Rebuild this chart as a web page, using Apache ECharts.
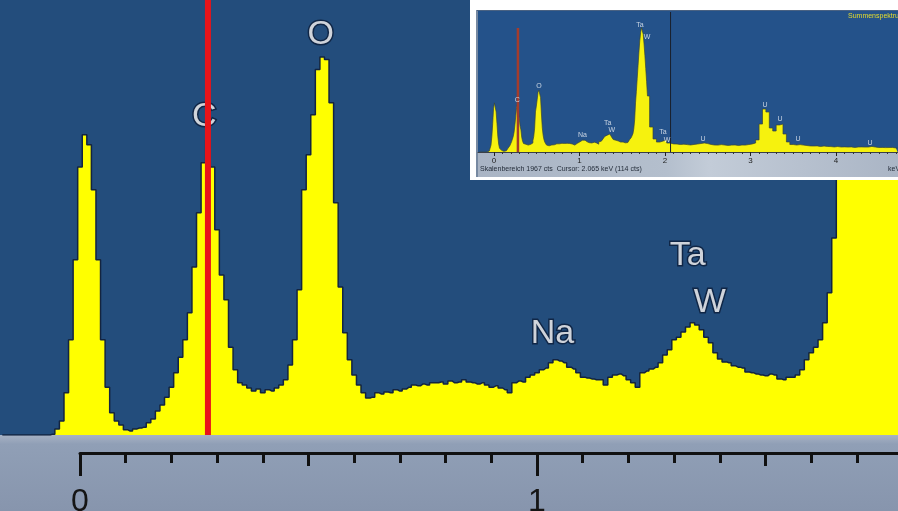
<!DOCTYPE html>
<html>
<head>
<meta charset="utf-8">
<script src="https://cdn.jsdelivr.net/npm/echarts@6/dist/echarts.min.js"></script>
<style>
  html, body { margin: 0; padding: 0; background: #ffffff; }
  #chart { width: 898px; height: 511px; }
</style>
</head>
<body>
<div id="chart"></div>
<script>
// EDS spectrum, 10 eV channels starting at -0.17 keV (counts per channel)
const channelStart = -0.17;
const channelWidth = 0.01;
const channelCounts = [
  0, 0, 0, 0, 0, 0, 0, 0, 0, 0,
  0, 2, 14, 32, 97, 219, 403, 616, 690, 667,
  564, 403, 219, 110, 51, 32, 23, 12, 9, 14,
  16, 18, 28, 37, 55, 69, 87, 110, 143, 179,
  219, 281, 386, 511, 626, 679, 616, 472, 368, 311,
  202, 150, 120, 115, 108, 101, 106, 97, 104, 101,
  108, 115, 127, 161, 219, 334, 564, 644, 736, 840,
  869, 863, 764, 534, 340, 235, 173, 138, 115, 97,
  85, 87, 97, 94, 99, 97, 104, 101, 106, 110,
  115, 113, 117, 115, 120, 120, 122, 117, 124, 120,
  122, 127, 122, 120, 117, 120, 115, 110, 113, 108,
  104, 97, 120, 124, 122, 133, 138, 143, 150, 154,
  166, 173, 170, 166, 156, 152, 143, 133, 131, 129,
  127, 127, 115, 133, 138, 140, 136, 127, 120, 110,
  143, 147, 152, 156, 166, 184, 196, 219, 225, 237,
  248, 258, 253, 242, 225, 212, 189, 175, 168, 166,
  159, 156, 154, 145, 143, 140, 138, 136, 140, 138,
  129, 127, 133, 133, 138, 150, 173, 189, 202, 219,
  258, 327, 453, 690, 851, 1035, 1219, 1403, 1564, 1679,
  1748, 1725, 1656, 1518, 1357, 1173, 989
];

// Sum spectrum continuation above 1.80 keV, 40 eV steps
const overviewStart = 1.80;
const overviewStep = 0.04;
const overviewCounts = [
  787, 351, 183, 140, 155, 169, 126, 114, 112, 105,
  110, 104, 99, 106, 112, 119, 127, 118, 106, 98,
  97, 104, 98, 92, 97, 99, 91, 98, 97, 105,
  113, 127, 170, 393, 604, 562, 337, 295, 380, 393,
  253, 141, 105, 98, 104, 97, 91, 85, 84, 86,
  77, 84, 78, 76, 71, 77, 70, 72, 69, 71,
  64, 70, 71, 69, 70, 78, 70, 63, 64, 62,
  63, 64, 57, 56
];

// Peak identifications: element, line energy (keV), label height (cts)
const peakNames    = ['C', 'O', 'Na', 'Ta', 'W', 'Ta', 'W', 'Ta', 'W', 'U', 'U', 'U', 'U', 'U'];
const peakEnergies = [0.272, 0.527, 1.034, 1.330, 1.378, 1.708, 1.789, 1.977, 2.023, 2.444, 3.170, 3.345, 3.556, 4.398];
const peakHeights  = [733, 920, 232, 412, 304, 1784, 1616, 281, 169, 183, 660, 464, 183, 126];

// Cursors
const markerEnergy = 0.28;        // red marker
const markerTop = 1742;           // marker height in the overview (cts)
const cursorEnergy = 2.065;       // overview cursor
const cursorCounts = 114;

// Axis ticks (keV)
const mainTickLabels = [0, 1];
const mainHalfTicks = [0.5, 1.5];
const mainMinorTicks = [0.1, 0.2, 0.3, 0.4, 0.6, 0.7, 0.8, 0.9, 1.1, 1.2, 1.3, 1.4, 1.6, 1.7];
const overviewTickLabels = [0, 1, 2, 3, 4];

const scaleRange = 1967;          // overview full scale (cts)
const MAIN_MIN = -0.175, MAIN_MAX = 1.79, MAIN_YMAX = 1000;
const AXIS_MAX = 1.79;
const OV_MIN = -0.187, OV_MAX = 4.725;

const spectrum = channelCounts.map((c, i) => [+(channelStart + i * channelWidth).toFixed(3), c]);
const overview = spectrum.concat(
  overviewCounts.map((c, k) => [+(overviewStart + k * overviewStep).toFixed(3), c])
);
const peaks = peakNames.map((n, i) => ({ name: n, value: [peakEnergies[i], peakHeights[i]] }));
const mainPeaks = peaks.filter(p => p.value[0] <= MAIN_MAX && p.value[1] <= MAIN_YMAX);

const overviewMinor = [];
for (let k = 1; k < 48; k++) { if (k % 10) overviewMinor.push(k / 10); }

const FONT = '"Liberation Sans", Arial, sans-serif';
const chart = echarts.init(document.getElementById('chart'), null, { renderer: 'canvas' });

const hiddenX = (grid, min, max) => ({ gridIndex: grid, type: 'value', min, max, show: false });

// main keV scale: one axis per tick length, all sharing the bottom edge of grid 1
const mainScale = (ticks, len, withLine, withLabels) => ({
  gridIndex: 1, type: 'value', min: 0, max: AXIS_MAX, z: 5, position: 'bottom', offset: 0,
  axisLine: { show: withLine, lineStyle: { color: '#111111', width: 3 } },
  axisTick: { show: true, customValues: ticks, length: len, lineStyle: { color: '#111111', width: 3 } },
  axisLabel: withLabels
    ? { show: true, customValues: ticks, margin: 33, fontSize: 32, color: '#151515', fontFamily: FONT }
    : { show: false },
  splitLine: { show: false }
});

chart.setOption({
  animation: false,
  backgroundColor: '#ffffff',
  grid: [
    { left: 0, right: 0, top: 0, height: 435, show: true, backgroundColor: '#234d7c', borderWidth: 0, outerBoundsMode: 'none' },
    { left: 80, right: 0, top: 400, height: 53, outerBoundsMode: 'none' },
    { left: 478, width: 420, top: 12, height: 140, outerBoundsMode: 'none' }
  ],
  xAxis: [
    hiddenX(0, MAIN_MIN, MAIN_MAX),
    mainScale(mainTickLabels, 23, true, true),
    mainScale(mainHalfTicks, 13, false, false),
    mainScale(mainMinorTicks, 10, false, false),
    {
      gridIndex: 2, type: 'value', min: OV_MIN, max: OV_MAX, z: 24, position: 'bottom', offset: 0,
      axisLine: { show: true, lineStyle: { color: '#3a3f48', width: 1 } },
      axisTick: { show: true, customValues: overviewTickLabels, length: 4, lineStyle: { color: '#222', width: 1 } },
      axisLabel: { show: true, customValues: overviewTickLabels, margin: 5, fontSize: 8, color: '#222', fontFamily: FONT },
      splitLine: { show: false }
    },
    {
      gridIndex: 2, type: 'value', min: OV_MIN, max: OV_MAX, z: 24, position: 'bottom', offset: 0,
      axisLine: { show: false },
      axisTick: { show: true, customValues: overviewMinor, length: 2, lineStyle: { color: '#333', width: 1 } },
      axisLabel: { show: false }, splitLine: { show: false }
    }
  ],
  yAxis: [
    { gridIndex: 0, type: 'value', min: 0, max: MAIN_YMAX, show: false },
    { gridIndex: 1, type: 'value', min: 0, max: 1, show: false },
    { gridIndex: 2, type: 'value', min: 0, max: scaleRange, show: false }
  ],
  graphic: [
    // axis strip under the main spectrum
    {
      type: 'rect', z: 1, silent: true,
      shape: { x: 0, y: 435, width: 898, height: 76 },
      style: {
        fill: new echarts.graphic.LinearGradient(0, 0, 0, 1, [
          { offset: 0, color: '#a7b2c4' },
          { offset: 0.12, color: '#909fb6' },
          { offset: 1, color: '#8795ad' }
        ])
      }
    },
    // overview panel frame
    { type: 'rect', z: 20, silent: true, shape: { x: 470, y: 0, width: 428, height: 180 }, style: { fill: '#ffffff' } },
    { type: 'rect', z: 21, silent: true, shape: { x: 478, y: 11, width: 420, height: 141 }, style: { fill: '#24528a' } },
    {
      type: 'rect', z: 21, silent: true, shape: { x: 478, y: 152, width: 420, height: 25 },
      style: {
        fill: new echarts.graphic.LinearGradient(0, 0, 1, 0, [
          { offset: 0, color: '#a9b4c4' },
          { offset: 0.45, color: '#b4bfcd' },
          { offset: 0.55, color: '#c3ccd8' },
          { offset: 1, color: '#aab5c5' }
        ])
      }
    },
    { type: 'line', z: 22, silent: true, shape: { x1: 477, y1: 10, x2: 477, y2: 177 }, style: { stroke: '#4a6282', lineWidth: 1.5 } },
    { type: 'line', z: 22, silent: true, shape: { x1: 477, y1: 10.5, x2: 898, y2: 10.5 }, style: { stroke: '#4a6282', lineWidth: 1 } },
    {
      type: 'text', z: 25, silent: true, x: 848, y: 13,
      style: { text: 'Summenspektrum', fontSize: 7, fontFamily: FONT, fill: '#e6dc2c' }
    },
    {
      type: 'text', z: 25, silent: true, x: 480, y: 166,
      style: {
        text: 'Skalenbereich ' + scaleRange + ' cts  Cursor: ' + cursorEnergy.toFixed(3) + ' keV (' + cursorCounts + ' cts)',
        fontSize: 7, fontFamily: FONT, fill: '#1f2835'
      }
    },
    {
      type: 'text', z: 25, silent: true, x: 888, y: 166,
      style: { text: 'keV', fontSize: 7, fontFamily: FONT, fill: '#1f2835' }
    }
  ],
  series: [
    {
      name: 'Spektrum', type: 'line', xAxisIndex: 0, yAxisIndex: 0, z: 2,
      data: spectrum, step: 'middle', symbol: 'none', silent: true, clip: true,
      lineStyle: { color: '#132440', width: 1.5 },
      areaStyle: { color: '#ffff00', opacity: 1 }
    },
    {
      name: 'Elemente', type: 'scatter', xAxisIndex: 0, yAxisIndex: 0, z: 3,
      data: mainPeaks, symbolSize: 1, itemStyle: { color: 'rgba(0,0,0,0)' }, silent: true,
      label: {
        show: true, position: 'inside', formatter: '{b}', fontSize: 34, fontFamily: FONT,
        color: '#ffffff', textBorderColor: '#0b1d38', textBorderWidth: 3
      }
    },
    {
      name: 'Marker', type: 'line', xAxisIndex: 0, yAxisIndex: 0, z: 4,
      data: [[markerEnergy, 0], [markerEnergy, MAIN_YMAX]], symbol: 'none', silent: true,
      lineStyle: { color: '#e8141a', width: 6 }
    },
    {
      name: 'Summenspektrum', type: 'line', xAxisIndex: 4, yAxisIndex: 2, z: 22,
      data: overview, step: 'middle', symbol: 'none', silent: true, clip: true,
      lineStyle: { color: '#3a4636', width: 0.7 },
      areaStyle: { color: '#f6f20e', opacity: 1 }
    },
    {
      name: 'Marker (Übersicht)', type: 'line', xAxisIndex: 4, yAxisIndex: 2, z: 23,
      data: [[markerEnergy, 0], [markerEnergy, markerTop]], symbol: 'none', silent: true,
      lineStyle: { color: '#a43c2c', width: 2.5 }
    },
    {
      name: 'Cursor', type: 'line', xAxisIndex: 4, yAxisIndex: 2, z: 23,
      data: [[cursorEnergy, 0], [cursorEnergy, scaleRange]], symbol: 'none', silent: true,
      lineStyle: { color: '#1a1f2a', width: 1 }
    },
    {
      name: 'Elemente (Übersicht)', type: 'scatter', xAxisIndex: 4, yAxisIndex: 2, z: 23,
      data: peaks, symbolSize: 1, itemStyle: { color: 'rgba(0,0,0,0)' }, silent: true,
      label: {
        show: true, position: 'inside', formatter: '{b}', fontSize: 7, fontFamily: FONT,
        color: '#eef1f6'
      }
    }
  ]
});
</script>
</body>
</html>
